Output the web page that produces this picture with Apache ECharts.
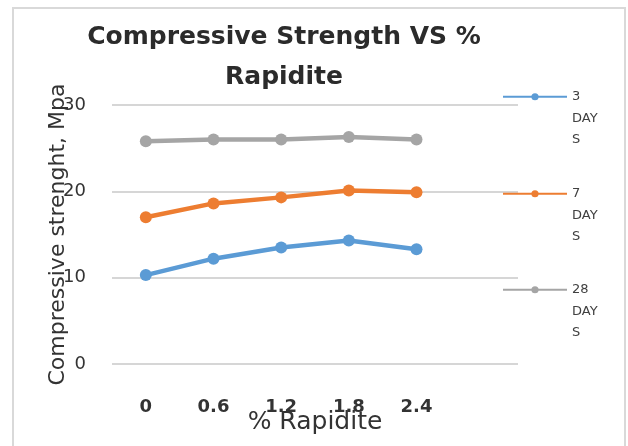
<!DOCTYPE html>
<html><head><meta charset="utf-8">
<script src="https://cdn.jsdelivr.net/npm/echarts@6/dist/echarts.min.js"></script>
<style>html,body{margin:0;padding:0;background:#fff}#c{width:628px;height:446px}</style>
</head><body><div id="c"></div>
<script>
const categories = ['0', '0.6', '1.2', '1.8', '2.4', ''];
const seriesNames = ['3 DAYS', '7 DAYS', '28 DAYS'];
const day3 = [10.3, 12.2, 13.5, 14.3, 13.3];
const day7 = [17.0, 18.6, 19.3, 20.1, 19.9];
const day28 = [25.8, 26.0, 26.0, 26.3, 26.0];
const yTicks = [0, 10, 20, 30];
const colors = ['#5B9BD5', '#ED7D31', '#A5A5A5'];
const FONT = 'DejaVu Sans';

const chart = echarts.init(document.getElementById('c'), null, {renderer: 'canvas'});
function wrapName(n) {
  const p = n.split(' ');
  return '\n\n' + p[0] + '\n' + p[1].slice(0, 3) + '\n' + p[1].slice(3);
}
function mkLegend(name, top) {
  return {
    data: [name], left: 497, top: top, orient: 'vertical',
    itemWidth: 64, itemHeight: 9, selectedMode: false,
    lineStyle: {width: 2},
    formatter: wrapName,
    textStyle: {fontFamily: FONT, fontSize: 13, color: '#404040', lineHeight: 21.5}
  };
}
const allData = [day3, day7, day28];
chart.setOption({
  animation: false,
  textStyle: {fontFamily: FONT},
  title: {
    text: 'Compressive Strength VS %\nRapidite',
    left: 279, top: 12, textAlign: 'center',
    textStyle: {fontFamily: FONT, fontSize: 25, fontWeight: 'bold', color: '#2b2b2b', lineHeight: 40}
  },
  legend: [mkLegend(seriesNames[0], 38), mkLegend(seriesNames[1], 135), mkLegend(seriesNames[2], 231)],
  grid: {left: 112, right: 110, top: 105, bottom: 82},
  xAxis: {
    type: 'category', data: categories, boundaryGap: true,
    axisLine: {show: false}, axisTick: {show: false},
    axisLabel: {margin: 34, fontSize: 18, fontWeight: 'bold', color: '#333', fontFamily: FONT},
    name: '% Rapidite', nameLocation: 'middle', nameGap: 46, nameMoveOverlap: false,
    nameTextStyle: {fontSize: 25, color: '#333', fontFamily: FONT}
  },
  yAxis: {
    type: 'value', min: yTicks[0], max: yTicks[yTicks.length - 1], interval: 10,
    axisLine: {show: false}, axisTick: {show: false},
    splitLine: {lineStyle: {color: '#d6d6d6', width: 2}},
    axisLabel: {margin: 26, fontSize: 18, color: '#333', fontFamily: FONT},
    name: 'Compressive strenght, Mpa', nameLocation: 'middle', nameGap: 43, nameMoveOverlap: false,
    nameTextStyle: {fontSize: 22, color: '#333', fontFamily: FONT}
  },
  graphic: [{
    type: 'rect', shape: {x: 13, y: 8, width: 612, height: 460},
    style: {fill: 'none', stroke: '#d9d9d9', lineWidth: 2}, silent: true
  }],
  series: seriesNames.map((n, i) => ({
    name: n, type: 'line', data: allData[i],
    symbol: 'circle', symbolSize: 12,
    lineStyle: {width: 4.5, color: colors[i]},
    itemStyle: {color: colors[i]}
  }))
});
</script></body></html>
